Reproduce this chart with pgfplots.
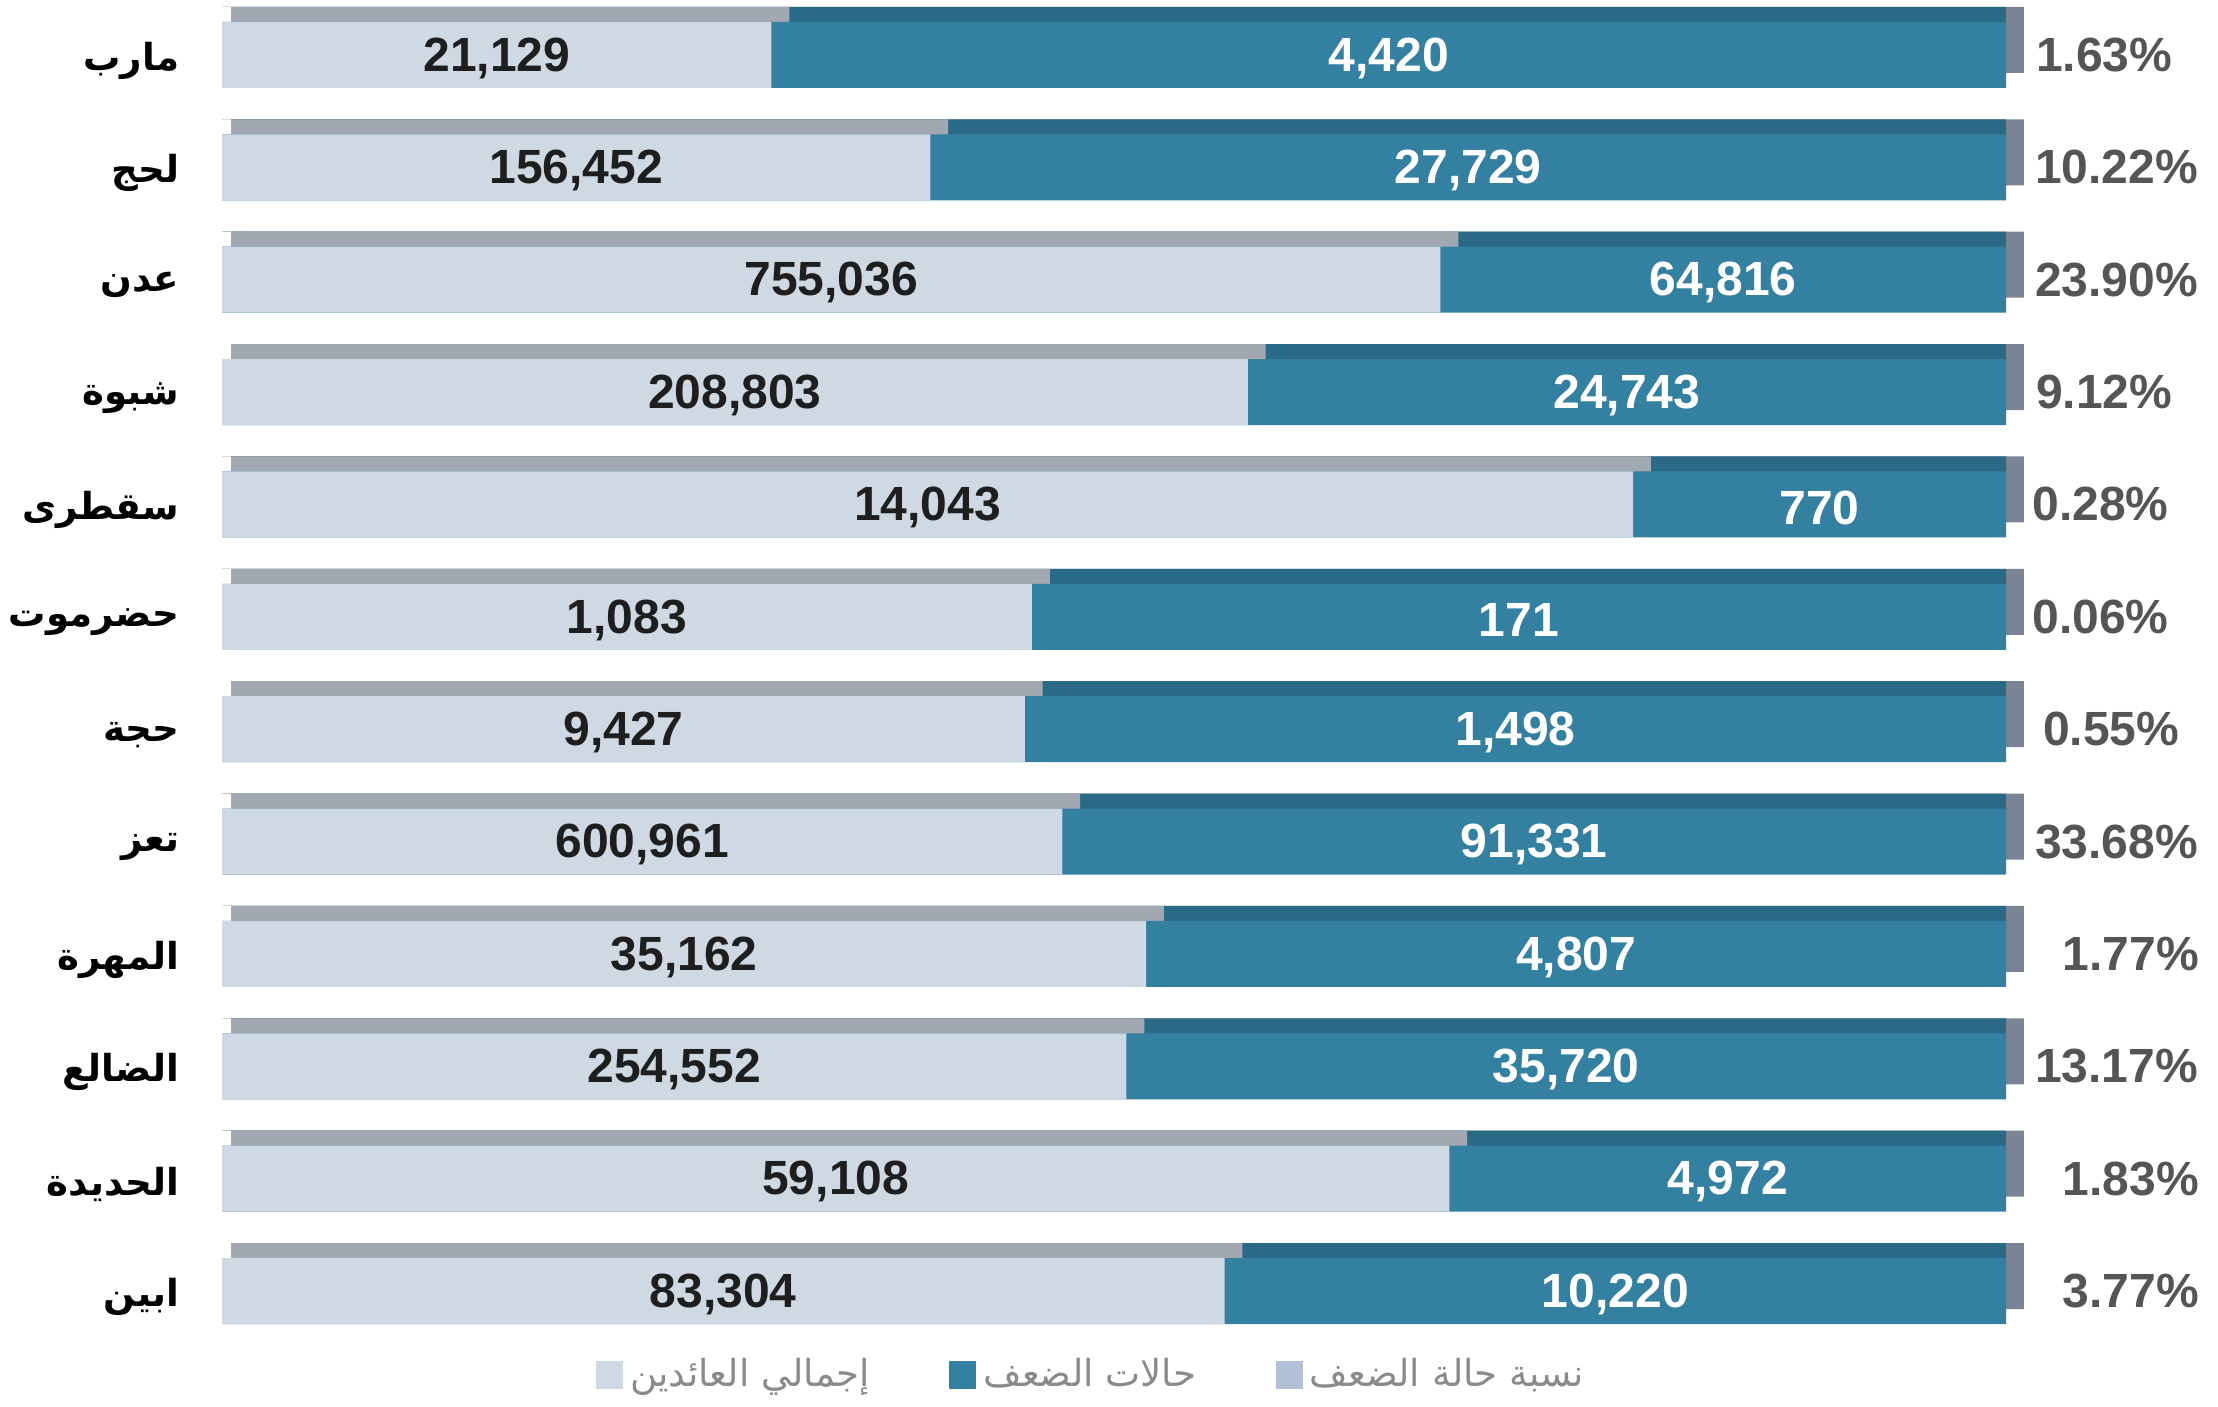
\documentclass[border=0pt]{standalone}
\usepackage{fontspec}
\setmainfont{Liberation Sans}
\newfontfamily\arabicfont[Script=Arabic]{DejaVu Sans}
\TeXXeTstate=1
\usepackage{pgfplots}
\usepackage{pgfplotstable}
\pgfplotsset{compat=1.18}

\definecolor{lightbar}{HTML}{CFD9E4}
\definecolor{tealbar}{HTML}{3480A0}
\definecolor{lighttop}{HTML}{A2A8B2}
\definecolor{tealtop}{HTML}{2A6A86}
\definecolor{sidegrey}{HTML}{7A8494}
\definecolor{pctgrey}{HTML}{555555}
\definecolor{labdark}{HTML}{1E1E1E}
\definecolor{leggrey}{HTML}{8A8A8A}
\definecolor{legpct}{HTML}{B2BFD6}

% y: row position, w: width share of the light segment, t: width share of the teal segment
% tot: total returnees, weak: weakness cases, pct: weakness share, px: position of the % label
\pgfplotstableread{
y  w    t    tot      weak    pct    px
11 30.8 69.2 21,129   4,420   1.63   105.5
10 39.7 60.3 156,452  27,729  10.22  106.2
9  68.3 31.7 755,036  64,816  23.90  106.2
8  57.5 42.5 208,803  24,743  9.12   105.5
7  79.1 20.9 14,043   770     0.28   105.3
6  45.4 54.6 1,083    171     0.06   105.3
5  45.0 55.0 9,427    1,498   0.55   105.9
4  47.1 52.9 600,961  91,331  33.68  106.2
3  51.8 48.2 35,162   4,807   1.77   107.0
2  50.7 49.3 254,552  35,720  13.17  106.2
1  68.8 31.2 59,108   4,972   1.83   107.0
0  56.2 43.8 83,304   10,220  3.77   107.0
}\data

\begin{document}
\begin{tikzpicture}
\useasboundingbox (0,0) rectangle (554.5pt,351.5pt);
\begin{axis}[
  at={(55.5pt,14.7pt)}, anchor=south west,
  scale only axis, width=446pt, height=337.1pt,
  xmin=0, xmax=100, ymin=-0.5, ymax=11.5,
  clip=false,
  axis lines*=left, axis line style={draw=none},
  xtick=\empty,
  ytick={0,...,11},
  yticklabels={{\beginR ابين\endR},{\beginR الحديدة\endR},{\beginR الضالع\endR},{\beginR المهرة\endR},{\beginR تعز\endR},{\beginR حجة\endR},{\beginR حضرموت\endR},{\beginR سقطرى\endR},{\beginR شبوة\endR},{\beginR عدن\endR},{\beginR لحج\endR},{\beginR مارب\endR}},
  ytick style={draw=none},
  major tick length=0pt,
  yticklabel style={anchor=east, inner sep=0pt, xshift=-10.5pt, yshift=-1.4pt, font=\arabicfont\bfseries\fontsize{9.3}{11}\selectfont, text=black},
  bar width=16.5pt,
  legend columns=3,
  legend style={at={(0.489,-0.0206)}, anchor=center, draw=none, fill=none,
    font=\arabicfont\fontsize{9.3}{11}\selectfont, text=leggrey,
    /tikz/every even column/.append style={column sep=18pt}},
]
\addlegendimage{only marks, mark=square*, mark size=3.2pt, color=lightbar, mark options={draw=lightbar, fill=lightbar}}
\addlegendentry{\beginR إجمالي العائدين\endR}
\addlegendimage{only marks, mark=square*, mark size=3.2pt, color=tealbar, mark options={draw=tealbar, fill=tealbar}}
\addlegendentry{\beginR حالات الضعف\endR}
\addlegendimage{only marks, mark=square*, mark size=3.2pt, color=legpct, mark options={draw=legpct, fill=legpct}}
\addlegendentry{\beginR نسبة حالة الضعف\endR}

% back (3D depth) faces
\addplot[xbar, bar shift=3.75pt, fill=sidegrey, draw=none, forget plot] table[x expr=\thisrow{w}+\thisrow{t}+1, y=y]{\data};
\addplot[xbar, bar shift=3.75pt, fill=tealtop, draw=none, forget plot] table[x expr=\thisrow{w}+\thisrow{t}, y=y]{\data};
\addplot[xbar, bar shift=3.75pt, fill=lighttop, draw=none, forget plot] table[x expr=\thisrow{w}+1, y=y]{\data};
\addplot[xbar, bar shift=3.75pt, fill=white, draw=none, forget plot] table[x expr=0.5, y=y]{\data};
% front faces
\addplot[xbar, bar shift=0pt, fill=tealbar, draw=none, forget plot] table[x expr=\thisrow{w}+\thisrow{t}, y=y]{\data};
\addplot[xbar, bar shift=0pt, fill=lightbar, draw=none, forget plot] table[x=w, y=y]{\data};

% value labels
\addplot[draw=none, mark=none, forget plot, nodes near coords, point meta=explicit symbolic,
  every node near coord/.append style={anchor=center, yshift=-0.8pt, font=\bfseries\fontsize{12}{14}\selectfont, text=labdark}]
  table[x expr=\thisrow{w}/2, y=y, meta=tot]{\data};
\addplot[draw=none, mark=none, forget plot, nodes near coords, point meta=explicit symbolic,
  every node near coord/.append style={anchor=center, yshift=-0.8pt, font=\bfseries\fontsize{12}{14}\selectfont, text=white}]
  table[x expr=\thisrow{w}+\thisrow{t}/2, y=y, meta=weak]{\data};
\addplot[draw=none, mark=none, forget plot, nodes near coords={\pgfplotspointmeta\%}, point meta=explicit symbolic,
  every node near coord/.append style={anchor=center, font=\bfseries\fontsize{12}{14}\selectfont, text=pctgrey}]
  table[x=px, y=y, meta=pct]{\data};
\end{axis}
\end{tikzpicture}
\end{document}
